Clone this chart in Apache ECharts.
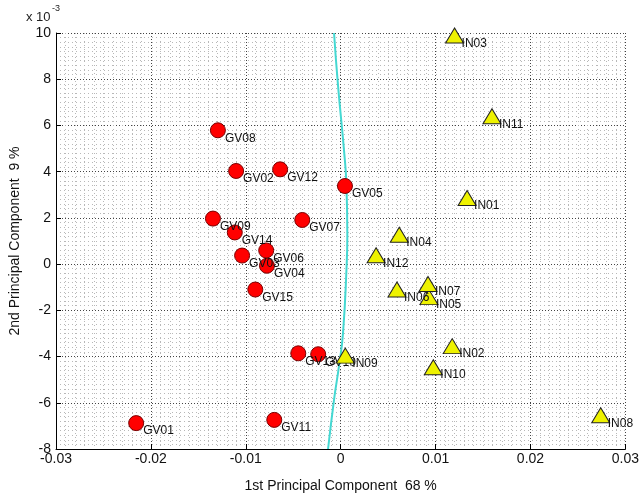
<!DOCTYPE html>
<html>
<head>
<meta charset="utf-8">
<script src="https://cdn.jsdelivr.net/npm/echarts@6/dist/echarts.min.js"></script>
<style>
html,body{margin:0;padding:0;background:#fff;}
#c{width:642px;height:498px;}
</style>
</head>
<body>
<div id="c"></div>
<script>
// Data (y values in units of 1e-3)
var gvNames = ['GV01','GV02','GV03','GV04','GV05','GV06','GV07','GV08','GV09','GV10','GV11','GV12','GV13','GV14','GV15'];
var gvX = [-0.02155,-0.01102,-0.01039,-0.00777,0.00045,-0.00785,-0.00405,-0.01294,-0.01346,-0.00237,-0.00700,-0.00638,-0.00447,-0.01116,-0.00900];
var gvY = [-6.88,4.03,0.37,-0.07,3.38,0.59,1.91,5.79,1.97,-3.90,-6.74,4.10,-3.86,1.37,-1.10];

var inNames = ['IN01','IN02','IN03','IN04','IN05','IN06','IN07','IN08','IN09','IN10','IN11','IN12'];
var inX = [0.01332,0.01175,0.01200,0.00617,0.00930,0.00593,0.00920,0.02740,0.00049,0.00976,0.01594,0.00373];
var inY = [2.86,-3.55,9.89,1.27,-1.43,-1.10,-0.86,-6.54,-3.96,-4.46,6.40,0.38];

var curveX = [-0.00070,-0.00028,0.00035,0.00060,0.00070,0.00063,0.00024,-0.00018,-0.00070,-0.00133];
var curveY = [10.0,7.72,4.92,3.48,1.23,-0.04,-3.01,-4.41,-5.86,-8.0];

var xTicks = {min:-0.03, max:0.03, interval:0.01};
var yTicks = {min:-8, max:10, interval:2};
var yScaleText = 'x 10';
var yScaleExp = '-3';

function pairs(xs, ys, names){
  return xs.map(function(x,i){ return names ? {name:names[i], value:[x, ys[i]]} : [x, ys[i]]; });
}

var chart = echarts.init(document.getElementById('c'), null, {renderer:'canvas'});
var font = 'Liberation Sans, Arial, sans-serif';
var majorLine = {show:true, lineStyle:{color:'#444', type:[1,2], width:1}};
var minorLine = {show:true, lineStyle:{color:'#b8b8b8', type:[1,3], width:1}};
var lbl = {show:true, position:'inside', align:'left', verticalAlign:'middle', offset:[7,8],
           formatter:'{b}', color:'#111', fontSize:12, fontFamily:font};

chart.setOption({
  animation:false,
  backgroundColor:'#fff',
  graphic:[
    {type:'text', left:26, top:11, style:{text:yScaleText, fontSize:13, fontFamily:font, fill:'#222'}},
    {type:'text', left:52, top:4, style:{text:yScaleExp, fontSize:9, fontFamily:font, fill:'#222'}}
  ],
  grid:{left:54, right:15, top:33, bottom:41, containLabel:false},
  xAxis:{
    type:'value', min:xTicks.min, max:xTicks.max, interval:xTicks.interval,
    name:'1st Principal Component  68 %', nameLocation:'middle', nameGap:30,
    nameTextStyle:{fontSize:14, fontFamily:font, color:'#111'},
    axisLine:{show:true, onZero:false, lineStyle:{color:'#000', width:1}},
    axisTick:{show:true, inside:true, length:5, lineStyle:{color:'#000'}},
    axisLabel:{fontSize:14, fontFamily:font, color:'#111', margin:3},
    splitLine:majorLine,
    minorTick:{show:false, splitNumber:10},
    minorSplitLine:minorLine
  },
  yAxis:{
    type:'value', min:yTicks.min, max:yTicks.max, interval:yTicks.interval,
    name:'2nd Principal Component  9 %', nameLocation:'middle', nameGap:34, nameRotate:90,
    nameTextStyle:{fontSize:14, fontFamily:font, color:'#111'},
    axisLine:{show:true, onZero:false, lineStyle:{color:'#000', width:1}},
    axisTick:{show:true, inside:true, length:5, lineStyle:{color:'#000'}},
    axisLabel:{fontSize:14, fontFamily:font, color:'#111', margin:5},
    splitLine:majorLine,
    minorTick:{show:false, splitNumber:10},
    minorSplitLine:minorLine
  },
  series:[
    {
      type:'line', data:pairs(curveX, curveY), smooth:true, symbol:'none',
      lineStyle:{color:'#44d8d2', width:2}, z:2, silent:true
    },
    {
      type:'scatter', data:pairs(gvX, gvY, gvNames), symbol:'circle', symbolSize:15, clip:false,
      itemStyle:{color:'#ff0000', borderColor:'#7a0000', borderWidth:1, opacity:1}, label:lbl, z:3
    },
    {
      type:'scatter', data:pairs(inX, inY, inNames), symbol:'triangle', symbolSize:[18,15], clip:false,
      itemStyle:{color:'#eef200', borderColor:'#222', borderWidth:1, opacity:1}, label:lbl, z:4
    }
  ]
});
</script>
</body>
</html>
